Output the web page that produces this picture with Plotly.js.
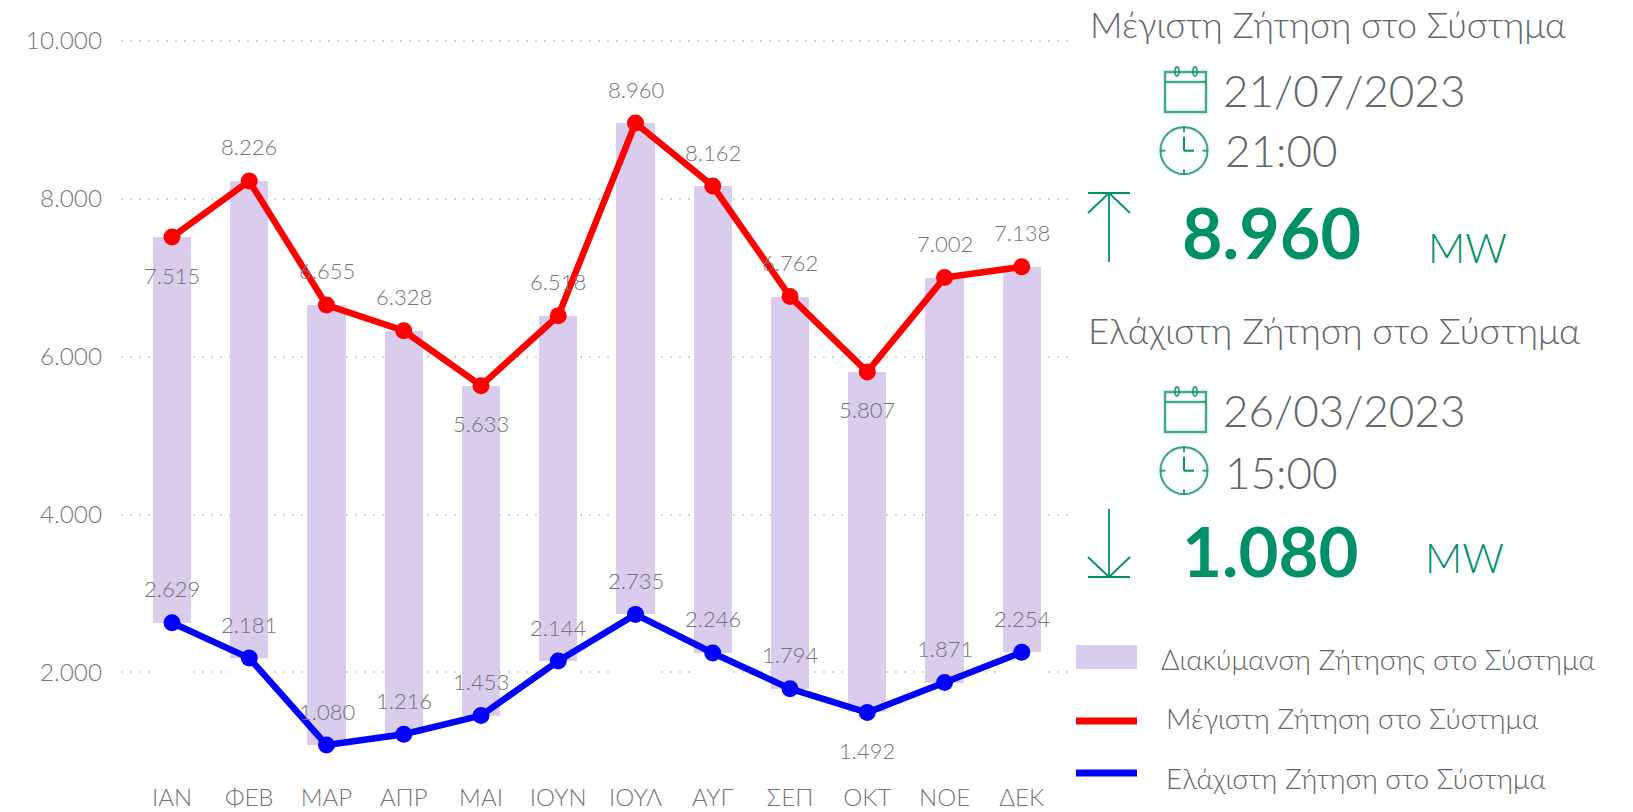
<!DOCTYPE html>
<html><head><meta charset="utf-8">
<script src="https://cdn.plot.ly/plotly-3.0.1.min.js"></script>
<style>html,body{margin:0;padding:0;background:#fff;overflow:hidden}#c{width:1633px;height:812px}</style>
</head><body><div id="c"></div>
<script>
const months = ['ΙΑΝ','ΦΕΒ','ΜΑΡ','ΑΠΡ','ΜΑΙ','ΙΟΥΝ','ΙΟΥΛ','ΑΥΓ','ΣΕΠ','ΟΚΤ','ΝΟΕ','ΔΕΚ'];
const maxDemand = [7515,8226,6655,6328,5633,6518,8960,8162,6762,5807,7002,7138];
const minDemand = [2629,2181,1080,1216,1453,2144,2735,2246,1794,1492,1871,2254];
const maxLabelBelow = ['ΙΑΝ','ΜΑΙ','ΟΚΤ'];
const minLabelBelow = ['ΟΚΤ'];
const nameRange = 'Διακύμανση Ζήτησης στο Σύστημα';
const nameMax = 'Μέγιστη Ζήτηση στο Σύστημα';
const nameMin = 'Ελάχιστη Ζήτηση στο Σύστημα';

const W=1633,H=812,mL=121,mR=561,mT=37,mB=37;
const FONT='Lato, "Noto Sans", sans-serif';
const GREEN='#009068', GREY='#757575', TXT='#62666c';
const px=x=>(x-mL)/(W-mL-mR), py=y=>(H-mB-y)/(H-mT-mB);
const fmt=v=>String(v).replace(/\B(?=(\d{3})+$)/g,'.');

const spread=maxDemand.map((v,i)=>v-minDemand[i]);
const traces=[
 {type:'bar',name:'base',x:months,y:minDemand,marker:{color:'#ffffff'},hoverinfo:'skip',showlegend:false},
 {type:'bar',name:nameRange,x:months,y:spread,marker:{color:'#d9cced'},showlegend:false},
 {type:'scatter',mode:'lines+markers',name:nameMax,x:months,y:maxDemand,line:{color:'#ff0000',width:6.5},marker:{color:'#ff0000',size:17},showlegend:false},
 {type:'scatter',mode:'lines+markers',name:nameMin,x:months,y:minDemand,line:{color:'#0000ff',width:6.5},marker:{color:'#0000ff',size:17},showlegend:false}
];
const dataLabels=(vals,below)=>vals.map((v,i)=>({x:months[i],y:v,xref:'x',yref:'y',text:fmt(v),showarrow:false,
  yshift:below.includes(months[i])?-38:34,font:{family:FONT,size:22,color:GREY,weight:300}}));
const txt=(x,y,text,size,color,extra)=>({xref:'paper',yref:'paper',x:px(x),y:py(y),xanchor:'left',yanchor:'middle',text,showarrow:false,
  font:Object.assign({family:FONT,size,color,weight:300},extra||{})});
const seg=(x0,y0,x1,y1,c,w,o)=>({type:'line',xref:'paper',yref:'paper',x0:px(x0),y0:py(y0),x1:px(x1),y1:py(y1),line:{color:c,width:w},opacity:o||1});
function calendar(y){const x0=1165,x1=1206;return [
 {type:'rect',xref:'paper',yref:'paper',x0:px(x0),x1:px(x1),y0:py(y+5),y1:py(y+45),line:{color:GREEN,width:2.5},opacity:.75},
 seg(x0,y+15,x1,y+15,GREEN,2.5,.75),
 {type:'circle',xref:'paper',yref:'paper',x0:px(1175),x1:px(1179),y0:py(y),y1:py(y+9),line:{color:GREEN,width:1.8},opacity:.8},
 {type:'circle',xref:'paper',yref:'paper',x0:px(1193),x1:px(1197),y0:py(y),y1:py(y+9),line:{color:GREEN,width:1.8},opacity:.8}];}
function clock(cx,cy){const r=23.5;return [
 {type:'circle',xref:'paper',yref:'paper',x0:px(cx-r),x1:px(cx+r),y0:py(cy-r),y1:py(cy+r),line:{color:GREEN,width:2.2},opacity:.75},
 seg(cx,cy-r,cx,cy-r+5,GREEN,2,.8),seg(cx,cy+r-5,cx,cy+r,GREEN,2,.8),seg(cx-r,cy,cx-r+5,cy,GREEN,2,.8),seg(cx+r-5,cy,cx+r,cy,GREEN,2,.8),
 seg(cx,cy-14,cx,cy,GREEN,2),seg(cx,cy,cx+10,cy,GREEN,2)];}
function arrow(cx,yTip,yEnd){const d=yEnd>yTip?20:-20;return [
 seg(cx,yTip,cx,yEnd,GREEN,1.8),seg(cx-21,yTip,cx+21,yTip,GREEN,1.8),seg(cx,yTip,cx-21,yTip+d,GREEN,1.8),seg(cx,yTip,cx+21,yTip+d,GREEN,1.8)];}

const shapes=[
 ...calendar(67),...clock(1184,150.7),...arrow(1109,193,262),
 ...calendar(387),...clock(1184,470.7),...arrow(1109,577,509),
 {type:'rect',xref:'paper',yref:'paper',x0:px(1076),x1:px(1137),y0:py(645),y1:py(669),fillcolor:'#d9cced',line:{width:0}},
 seg(1076,721,1137,721,'#ff0000',7),
 seg(1076,773,1137,773,'#0000ff',7)
];
const annotations=[
 ...dataLabels(maxDemand,maxLabelBelow),
 ...dataLabels(minDemand,minLabelBelow),
 txt(1088,25,nameMax,35.8,TXT),
 txt(1221,90,'21/07/2023',44,TXT),
 txt(1223,150,'21:00',44,TXT),
 txt(1180,232,'8.960',70,GREEN,{weight:700}),
 txt(1426,247,'MW',41,GREEN),
 txt(1086,330,nameMin,36.3,TXT),
 txt(1221,410,'26/03/2023',44,TXT),
 txt(1223,472,'15:00',44,TXT),
 txt(1180,550,'1.080',69,GREEN,{weight:700}),
 txt(1423,557,'MW',41,GREEN),
 txt(1159,659,nameRange,28.3,TXT),
 txt(1164,718,nameMax,28,TXT),
 txt(1164,778,nameMin,28,TXT)
];
const layout={width:W,height:H,margin:{l:mL,r:mR,t:mT,b:mB,pad:0},paper_bgcolor:'#fff',plot_bgcolor:'#fff',
 barmode:'stack',bargap:0.505,showlegend:false,separators:',.',font:{family:FONT,color:GREY,weight:300},
 xaxis:{type:'category',categoryorder:'array',categoryarray:months,range:[-0.66,11.65],showgrid:false,zeroline:false,showline:false,ticks:'',
   ticklabelstandoff:6,tickfont:{family:FONT,size:24,color:GREY,weight:300}},
 yaxis:{range:[700,10050],tickvals:[2000,4000,6000,8000,10000],tickformat:',d',showgrid:true,gridcolor:'#d4d4d4',griddash:'2px,7px',gridwidth:2,zeroline:false,showline:false,ticks:'',
   ticklabelstandoff:18,tickfont:{family:FONT,size:24.3,color:GREY,weight:300}},
 shapes,annotations};
Plotly.newPlot('c',traces,layout,{displayModeBar:false,staticPlot:true});
</script></body></html>
